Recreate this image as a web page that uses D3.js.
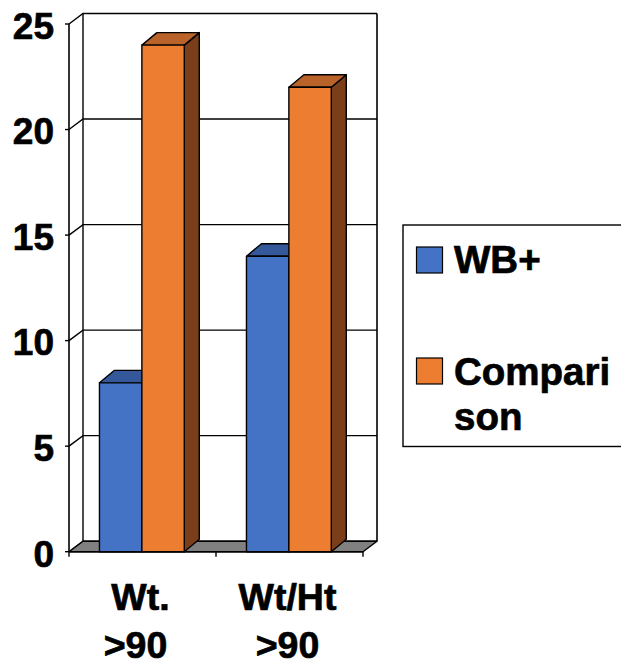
<!DOCTYPE html>
<html>
<head>
<meta charset="utf-8">
<script src="https://cdn.jsdelivr.net/npm/d3@7"></script>
<style>
  html, body { margin: 0; padding: 0; background: #ffffff; }
  svg { display: block; }
  text { font-family: "Liberation Sans", Arial, sans-serif; font-weight: bold; fill: #000;
         stroke: #000; stroke-width: 0.7px; }
</style>
</head>
<body>
<svg id="chart" width="621" height="667"></svg>
<script>
// Category labels (each split over two lines) and series values
const categories = ["Wt. >90", "Wt/Ht >90"];
const categoryLines = [["Wt.", ">90"], ["Wt/Ht", ">90"]];
const seriesNames = ["WB+", "Comparison"];
const legendLines = [["WB+"], ["Compari", "son"]];
const wbPlus = [8, 14];
const comparison = [24, 22];
const yTicks = [0, 5, 10, 15, 20, 25];

const seriesValues = [wbPlus, comparison];
const colors = {
  front: ["#4472C4", "#ED7D31"],
  top:   ["#35589A", "#B9622A"],
  side:  ["#284478", "#7A3E1B"]
};

const svg = d3.select("#chart");

// Front plane of the 3D box
const plotLeft = 69, plotRight = 363, plotBottom = 551.7, plotTop = 24;
// Depth of the walls and of the columns (oblique projection)
const wallDx = 14, wallDy = -10.5;
const barDx = 15, barDy = -12.5;

const y = d3.scaleLinear().domain([0, 25]).range([plotBottom, plotTop]);
const x0 = d3.scaleBand().domain(categories).range([plotLeft, plotRight]);
const x1 = d3.scaleBand().domain(seriesNames).range([0, x0.bandwidth()])
  .paddingInner(0).paddingOuter(0.733).align(0.49);

const line = d3.line();
const gWalls = svg.append("g");

// Back wall (white)
gWalls.append("path")
  .attr("d", line([[plotLeft + wallDx, y(25) + wallDy], [plotRight + wallDx, y(25) + wallDy],
                   [plotRight + wallDx, y(0) + wallDy], [plotLeft + wallDx, y(0) + wallDy]]) + "Z")
  .attr("fill", "#fff").attr("stroke", "none");

// Gridlines: diagonal across the left wall, then along the back wall
yTicks.forEach(t => {
  gWalls.append("path")
    .attr("d", line([[plotLeft, y(t)], [plotLeft + wallDx, y(t) + wallDy], [plotRight + wallDx, y(t) + wallDy]]))
    .attr("fill", "none").attr("stroke", "#000").attr("stroke-width", 1.4);
});

// Back wall left and right edges
gWalls.append("path")
  .attr("d", line([[plotLeft + wallDx, y(25) + wallDy], [plotLeft + wallDx, y(0) + wallDy]]))
  .attr("stroke", "#000").attr("stroke-width", 1.4);
gWalls.append("path")
  .attr("d", line([[plotRight + wallDx, y(25) + wallDy], [plotRight + wallDx, y(0) + wallDy]]))
  .attr("stroke", "#000").attr("stroke-width", 1.6);

// Grey floor
gWalls.append("path")
  .attr("d", line([[plotLeft, y(0)], [plotRight, y(0)], [plotRight + wallDx, y(0) + wallDy],
                   [plotLeft + wallDx, y(0) + wallDy]]) + "Z")
  .attr("fill", "#808080").attr("stroke", "#000").attr("stroke-width", 1.4).attr("stroke-linejoin", "round");

// Columns
const gBars = svg.append("g");
categories.forEach((cat, ci) => {
  seriesNames.forEach((s, si) => {
    const v = seriesValues[si][ci];
    const xl = x0(cat) + x1(s);
    const xr = xl + x1.bandwidth();
    const yt = y(v), yb = y(0);
    const face = (pts, fill) => {
      gBars.append("path").attr("d", line(pts) + "Z").attr("fill", fill)
        .attr("stroke", "#000").attr("stroke-width", 1.4).attr("stroke-linejoin", "round");
    };
    // right side
    face([[xr, yt], [xr + barDx, yt + barDy], [xr + barDx, yb + barDy], [xr, yb]], colors.side[si]);
    // top
    face([[xl, yt], [xl + barDx, yt + barDy], [xr + barDx, yt + barDy], [xr, yt]], colors.top[si]);
    // front
    face([[xl, yt], [xr, yt], [xr, yb], [xl, yb]], colors.front[si]);
  });
});

// Front value axis with outward ticks
const gAxis = svg.append("g");
gAxis.append("line")
  .attr("x1", plotLeft).attr("x2", plotLeft).attr("y1", y(25)).attr("y2", y(0))
  .attr("stroke", "#000").attr("stroke-width", 1.6);
yTicks.forEach(t => {
  gAxis.append("line")
    .attr("x1", plotLeft - 4).attr("x2", plotLeft).attr("y1", y(t)).attr("y2", y(t))
    .attr("stroke", "#000").attr("stroke-width", 1.4);
  gAxis.append("text")
    .attr("x", 54).attr("y", y(t)).attr("dy", "0.4em")
    .attr("text-anchor", "end").attr("font-size", 37)
    .text(t);
});

// Category axis along the front of the floor
gAxis.append("line")
  .attr("x1", plotLeft).attr("x2", plotRight).attr("y1", y(0)).attr("y2", y(0))
  .attr("stroke", "#000").attr("stroke-width", 1.6);
const catEdges = [plotLeft].concat(categories.map(c => x0(c) + x0.bandwidth()));
catEdges.forEach(xe => {
  gAxis.append("line")
    .attr("x1", xe).attr("x2", xe).attr("y1", y(0)).attr("y2", y(0) + 5)
    .attr("stroke", "#000").attr("stroke-width", 1.4);
});
categories.forEach((cat, ci) => {
  const cx = x0(cat) + x0.bandwidth() / 2 - 2;
  const t = gAxis.append("text")
    .attr("x", cx).attr("y", 610)
    .attr("text-anchor", "middle").attr("font-size", 37.5);
  categoryLines[ci].forEach((ln, li) => {
    t.append("tspan").attr("x", cx - (li === 1 && ci === 0 ? 5 : 0))
      .attr("dy", li === 0 ? 0 : 48).text(ln);
  });
});

// Legend
const gLegend = svg.append("g");
gLegend.append("rect")
  .attr("x", 403).attr("y", 225).attr("width", 240).attr("height", 221.5)
  .attr("fill", "#fff").attr("stroke", "#000").attr("stroke-width", 1.4);
const legendSwatchY = [247, 358];
const legendBaseY = [273, 385];
seriesNames.forEach((s, si) => {
  gLegend.append("rect")
    .attr("x", 416.5).attr("y", legendSwatchY[si]).attr("width", 26).attr("height", 26)
    .attr("fill", colors.front[si]).attr("stroke", "#000").attr("stroke-width", 1.2);
  const t = gLegend.append("text")
    .attr("x", 454).attr("y", legendBaseY[si]).attr("font-size", 38.5);
  legendLines[si].forEach((ln, li) => {
    t.append("tspan").attr("x", 454).attr("dy", li === 0 ? 0 : 45).text(ln);
  });
});
</script>
</body>
</html>
